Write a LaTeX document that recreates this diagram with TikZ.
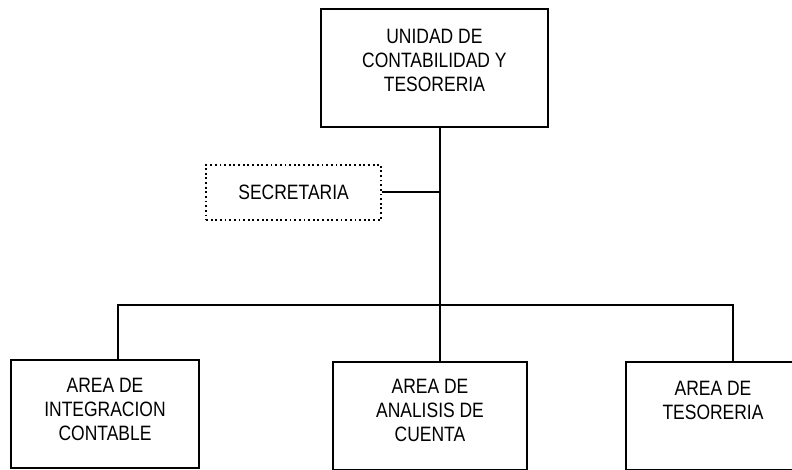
\documentclass[tikz,border=0pt]{standalone}
\usepackage{fontspec}
\setmainfont[FakeStretch=0.84]{Liberation Sans}
\usetikzlibrary{positioning}

\begin{document}
\begin{tikzpicture}[font=\fontsize{14.8}{17}\selectfont, line width=1.3pt,
  box/.style={draw, align=center, minimum width=5.675cm, minimum height=2.95cm},
  sec/.style={draw, dotted, align=center, minimum width=4.375cm, minimum height=1.375cm},
  area/.style={draw, align=center, minimum height=2.7cm}]
\useasboundingbox (0,0) rectangle (19.8,11.75);
\clip (0,0) rectangle (19.8,11.75);
\node[box] (uct) at (10.86,10.05) {UNIDAD DE\\CONTABILIDAD Y\\TESORERIA\\[-5.6pt]\mbox{}};
\node[sec] (secr) at (7.34,6.94) {SECRETARIA};
\node[area, minimum width=4.7cm] (aic) at (2.625,1.4) {AREA DE\\INTEGRACION\\CONTABLE\\[-9.9pt]\mbox{}};
\node[area, minimum width=4.85cm] (aac) at (10.75,1.36) {AREA DE\\ANALISIS DE\\CUENTA\\[-9.9pt]\mbox{}};
\node[area, minimum width=4.35cm] (ate) at (17.825,1.36) {AREA DE\\TESORERIA\\[4.3pt]\mbox{}};
\coordinate (bus) at (11,4.125);
\coordinate (busl) at (2.95,4.125);
\coordinate (busr) at (18.325,4.125);
\draw (uct.south -| bus) -- (bus) -- (aac.north -| bus);
\draw (secr.east) -- (secr.east -| bus);
\draw (aic.north -| busl) -- (busl) -- (busr) -- (ate.north -| busr);
\end{tikzpicture}
\end{document}
